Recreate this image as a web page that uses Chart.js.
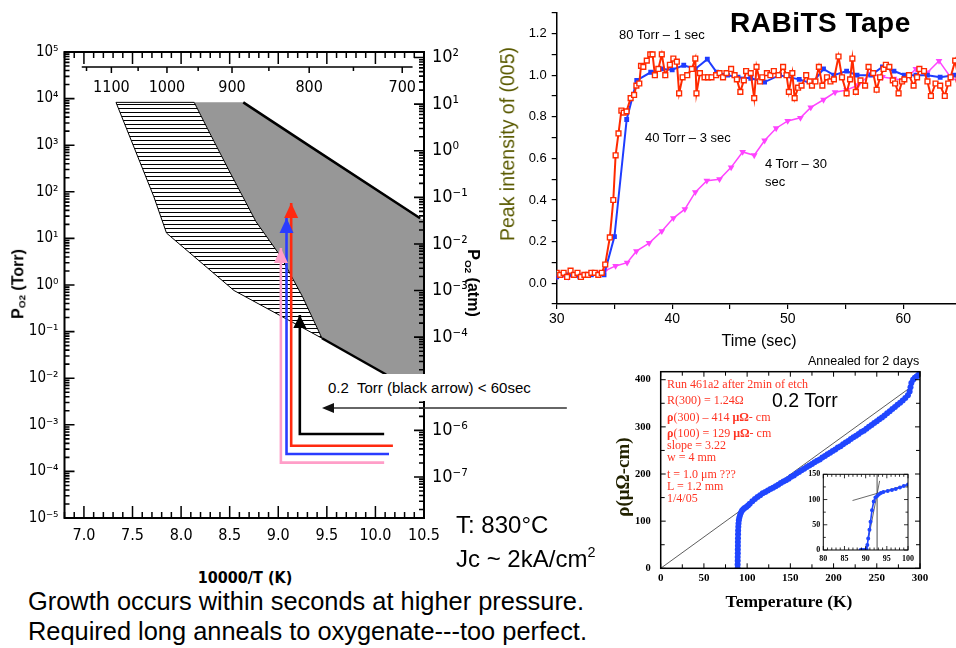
<!DOCTYPE html>
<html>
<head>
<meta charset="utf-8">
<title>Phase diagram, growth and resistivity</title>
<script src="https://cdn.jsdelivr.net/npm/chart.js@4.4.1/dist/chart.umd.min.js"></script>
<style>
  html, body { margin: 0; padding: 0; background: #fff; overflow: hidden; }
  body { position: relative; width: 956px; height: 648px; font-family: 'Liberation Sans', Arial, sans-serif; color: #000; }
  canvas { position: absolute; }
  .txt { position: absolute; white-space: nowrap; line-height: 1; }
  .rotl { transform: translate(-50%, -50%) rotate(-90deg); }
  .rotr { transform: translate(-50%, -50%) rotate(90deg); }
  .note { position: absolute; white-space: nowrap; line-height: 1; font-family: 'Liberation Serif', 'Times New Roman', serif; font-size: 12px; color: #ff3322; }
  sub { font-size: 0.62em; vertical-align: -0.25em; }
  sup { font-size: 0.6em; vertical-align: 0.7em; }
</style>
</head>
<body>
<canvas id="phase" width="580" height="560" style="left:0;top:0"></canvas>
<canvas id="growth" width="500" height="355" style="left:490px;top:0"></canvas>
<canvas id="rho" width="366" height="270" style="left:590px;top:355px"></canvas>
<canvas id="inset" width="118" height="98" style="left:800px;top:466px"></canvas>

<!-- left panel text -->
<div class="txt rotl" style="left:19px;top:284px;font-size:16px;font-weight:bold">P<sub>O2</sub> (Torr)</div>
<div class="txt rotr" style="left:472px;top:283px;font-size:16px;font-weight:bold">P<sub>O2</sub> (atm)</div>
<div class="txt" style="left:322px;top:374px;width:228px;height:27px;background:#fff;font-size:15px;line-height:27px;padding-left:6px;box-sizing:border-box">0.2&nbsp; Torr (black arrow) &lt; 60sec</div>
<div class="txt" style="left:245px;top:570px;transform:translateX(-50%);font-size:16px;font-weight:bold;font-family:'Liberation Sans Narrow','DejaVu Sans Condensed',sans-serif">10000/T (K)</div>
<div class="txt" style="left:456px;top:513px;font-size:24px">T: 830°C</div>
<div class="txt" style="left:456px;top:545px;font-size:24px">Jc ~ 2kA/cm<sup>2</sup></div>
<div class="txt" style="left:28px;top:589px;font-size:25.4px">Growth occurs within seconds at higher pressure.</div>
<div class="txt" style="left:28px;top:619px;font-size:25.4px">Required long anneals to oxygenate---too perfect.</div>

<!-- top right panel text -->
<div class="txt" style="left:730px;top:9px;font-size:28px;font-weight:bold;letter-spacing:0.5px">RABiTS Tape</div>
<div class="txt" style="left:619px;top:28px;font-size:13px">80 Torr – 1 sec</div>
<div class="txt" style="left:645px;top:131px;font-size:13px">40 Torr – 3 sec</div>
<div class="txt" style="left:765px;top:157px;font-size:13px">4 Torr – 30</div>
<div class="txt" style="left:765px;top:175px;font-size:13px">sec</div>
<div class="txt rotl" style="left:508px;top:144px;font-size:19.5px;color:#5a5a00">Peak intensity of (005)</div>
<div class="txt" style="left:759px;top:333px;transform:translateX(-50%);font-size:16px">Time (sec)</div>

<!-- bottom right panel text -->
<div class="txt" style="left:808px;top:355px;font-size:12.5px">Annealed for 2 days</div>
<div class="txt" style="left:772px;top:391px;font-size:19.5px">0.2 Torr</div>
<div class="note" style="left:667px;top:378px">Run 461a2 after 2min of etch</div>
<div class="note" style="left:667px;top:394px">R(300) = 1.24Ω</div>
<div class="note" style="left:667px;top:411px"><b>ρ</b>(300) – 414 <b>μΩ</b>- cm</div>
<div class="note" style="left:667px;top:427px"><b>ρ</b>(100) = 129 <b>μΩ</b>- cm</div>
<div class="note" style="left:667px;top:439px">slope = 3.22</div>
<div class="note" style="left:667px;top:451px">w = 4 mm</div>
<div class="note" style="left:667px;top:468px">t = 1.0 μm ???</div>
<div class="note" style="left:667px;top:480px">L = 1.2 mm</div>
<div class="note" style="left:667px;top:492px">1/4/05</div>
<div class="txt" style="left:789px;top:593px;transform:translateX(-50%);font-size:17.5px;font-weight:bold;font-family:'Liberation Serif','Times New Roman',serif">Temperature (K)</div>
<div class="txt rotl" style="left:622px;top:477px;font-size:19px;font-weight:bold;font-family:'Liberation Serif','Times New Roman',serif;color:#222200">ρ(μΩ-cm)</div>

<script>
const SANS = "'Liberation Sans', Arial, sans-serif";
const NARROW = "'Liberation Sans Narrow', 'DejaVu Sans Condensed', 'Liberation Sans', sans-serif";
const SERIF = "'Liberation Serif', 'Times New Roman', serif";

// ---- left panel: stability diagram (x = 10000/T, y = P_O2 in Torr) ----
const hatchZone = [[7.33, 8300], [8.135, 8300], [8.27, 2300], [8.49, 295], [8.77, 23], [9.025, 4.1],
  [9.25, 0.56], [9.45, 0.072], [8.545, 0.76], [7.85, 13], [7.72, 78]];
const grayZone = [[8.135, 8300], [8.64, 8300], [9.34, 910], [10.46, 27], [10.5, 25], [10.5, 0.012],
  [10.11, 0.012], [9.45, 0.072], [9.25, 0.56], [9.025, 4.1], [8.77, 23], [8.49, 295], [8.27, 2300]];
const grayUpperEdge = [[8.64, 8300], [9.34, 910], [10.46, 27]];
const grayLowerEdge = [[9.45, 0.072], [10.11, 0.012]];
// anneal paths: pink, blue, red, black
const arrowX = [9.027, 9.085, 9.133, 9.222];
const arrowTip = [6.2, 27.4, 57.5, 0.227];
const arrowBase = [1.54e-4, 2.36e-4, 3.56e-4, 6.35e-4];
const arrowEnd = [10.09, 10.14, 10.18, 10.09];
const arrowColors = ['#ff9ec8', '#2a3cff', '#ff2a10', '#000000'];
const noteArrow = { from: 11.97, to: 9.45, torr: 2.3e-3 };
const invTLabels = [7.0, 7.5, 8.0, 8.5, 9.0, 9.5, 10.0, 10.5];
const torrDecades = [1e-5, 1e-4, 1e-3, 1e-2, 1e-1, 1, 1e1, 1e2, 1e3, 1e4, 1e5];
const atmDecades = [1e-7, 1e-6, 1e-5, 1e-4, 1e-3, 1e-2, 1e-1, 1, 1e1, 1e2];
const celsiusTicks = [1150, 1100, 1050, 1000, 950, 900, 850, 800, 750, 700];
const celsiusLabels = [1100, 1000, 900, 800, 700];
const celsiusSpan = [1160, 690];
const TORR_PER_ATM = 760;

// ---- top right: (005) peak intensity vs time ----
const run80 = [[30.0,0.05],[30.3,0.04],[30.6,0.05],[30.9,0.03],[31.2,0.06],[31.5,0.04],[31.8,0.05],[32.1,0.03],
  [32.4,0.04],[32.7,0.04],[33.0,0.05],[33.3,0.05],[33.6,0.04],[33.9,0.05],[34.2,0.09],[34.6,0.22],[34.9,0.40],
  [35.1,0.615],[35.35,0.72],[35.6,0.83],[35.8,0.82],[36.05,0.826],[36.4,0.89],[36.7,0.905],[36.9,0.95],[37.15,0.96],
  [37.3,1.045],[37.5,1.04],[37.8,1.07],[38.1,1.10],[38.3,1.10],[38.5,1.0],[38.8,1.03],[39.1,1.10],[39.4,1.0],
  [39.8,1.05],[40.1,1.08],[40.4,1.065],[40.6,0.913],[40.9,0.99],[41.3,1.0],[41.7,1.03],[42.0,1.08],[42.1,0.913],
  [42.4,1.01],[42.8,0.99],[43.1,0.99],[43.4,0.99],[43.8,1.0],[44.1,1.01],[44.4,0.99],[44.7,1.01],[45.1,1.03],
  [45.4,1.0],[45.6,0.98],[45.9,0.92],[46.2,0.975],[46.4,1.02],[46.8,1.01],[47.1,0.89],[47.3,1.04],[47.6,0.97],
  [47.8,0.99],[48.2,1.01],[48.5,1.0],[48.8,1.02],[49.2,1.0],[49.6,1.04],[49.9,1.0],[50.1,0.92],[50.4,1.01],
  [50.6,0.89],[50.9,0.94],[51.2,0.95],[51.6,1.0],[51.9,0.97],[52.1,0.95],[52.4,0.97],[52.7,1.04],[53.0,0.95],
  [53.4,0.99],[53.7,0.97],[54.0,0.98],[54.4,1.09],[54.7,0.99],[55.1,0.913],[55.4,0.98],[55.6,1.08],[55.9,0.92],
  [56.3,0.975],[56.7,0.95],[57.0,1.04],[57.4,1.01],[57.7,0.93],[58.0,0.99],[58.3,1.03],[58.5,1.05],[58.8,1.04],
  [59.1,0.975],[59.3,0.96],[59.6,0.913],[59.9,0.97],[60.1,0.98],[60.5,1.0],[60.9,0.95],[61.2,0.99],[61.4,1.03],
  [61.8,1.02],[62.1,0.97],[62.4,0.90],[62.8,0.96],[63.2,0.95],[63.6,0.90],[63.9,0.96],[64.1,0.99],[64.5,1.07],
  [64.8,0.98],[65.2,1.02]];
const run40 = [[30,0.03],[31,0.04],[32,0.03],[33,0.04],[34.1,0.04],[35.0,0.224],[36.06,0.787],[36.93,0.975],
  [38.14,1.014],[39.1,1.03],[40.0,1.026],[41.0,1.048],[42.0,1.03],[43.04,1.077],[43.85,1.014],[44.8,1.0],
  [45.7,0.99],[46.8,0.985],[48.0,0.967],[49.3,1.0],[51.0,0.98],[52.1,0.96],[53.1,1.03],[54.0,1.0],[55.1,1.02],
  [56.0,1.0],[57.2,1.0],[58.2,1.04],[59.2,1.02],[60.1,1.0],[61.1,1.0],[62.1,1.0],[63.2,0.99],[64.4,1.0],[65.4,1.0]];
const run4 = [[30,0.03],[31,0.03],[32,0.04],[33.03,0.052],[34.2,0.06],[35.1,0.083],[36.1,0.099],[36.9,0.154],
  [38.0,0.193],[39.1,0.25],[40.1,0.313],[41.1,0.356],[42.0,0.438],[43.0,0.493],[44.1,0.5],[45.1,0.557],
  [46.1,0.631],[47.1,0.615],[48.0,0.686],[49.0,0.745],[50.0,0.78],[51.1,0.795],[52.0,0.845],[53.1,0.882],
  [54.1,0.918],[55.1,0.929],[56.1,0.952],[57.2,1.007],[58.2,0.991],[59.2,0.983],[60.1,0.975],[61.1,1.03],
  [62.1,1.013],[63.1,1.069],[64.1,0.99],[65.1,0.96]];

// ---- bottom right: resistivity vs temperature ----
const rhoCurve = [[89.0,0],[89.0,8],[89.1,16],[89.1,24],[89.2,32],[89.2,40],[89.3,48],[89.3,56],[89.4,64],
  [89.5,72],[89.6,80],[89.8,88],[90.0,95],[90.4,102],[91.0,108],[91.8,113],[92.8,118],[94.0,122],[95.5,125],
  [97.2,128],[99,130],[101,133],[103,137],[106,142],[109,147],[112,151],[115,155],[118,159],[121,162],[124,165],
  [127,168],[130,171],[133,174],[136,177],[139,181],[142,184],[145,187],[148,190],[151,194],[154,197],[157,201],
  [160,204],[163,208],[166,211],[169,215],[172,218],[175,221],[178,225],[181,228],[184,231],[187,235],[190,238],
  [193,242],[196,245],[199,249],[202,252],[205,256],[208,259],[211,263],[214,267],[217,270],[220,274],[223,278],
  [226,281],[229,285],[232,289],[235,292],[238,296],[241,300],[244,304],[247,308],[250,312],[253,316],[256,320],
  [259,324],[262,329],[265,333],[268,338],[271,342],[274,347],[277,351],[280,356],[283,361],[286,367],[288,375],
  [289,384],[290,393],[292,400],[294,404],[296,407],[298,410],[300,414]];
const rhoGuide = [[0, 0], [290, 385]];
const rhoLabels = [0, 100, 200, 300, 400];
const insetCurve = [[88.8,0],[89.2,0],[89.6,0],[90.0,0.5],[90.2,2],[90.4,10],[90.6,23],[90.9,40],[91.15,56],
  [91.5,79],[91.9,96],[92.3,104],[92.7,107],[93.1,110],[93.6,113],[94.2,115],[95.2,117],[96.2,119],[97.1,121],
  [98.1,124],[99.0,127],[100,130]];
const insetNormal = [[86.9, 98], [100, 130]];
const insetSteep = [[90.6, 20], [93.3, 137]];
const insetTc = [[92.7, 0], [92.7, 150]];

const pts = arr => arr.map(([x, y]) => ({ x, y }));
const sup = n => String(n).split('').map(c => c === '-' ? '⁻' : '⁰¹²³⁴⁵⁶⁷⁸⁹'['0123456789'.indexOf(c)]).join('');
const decadeLabel = v => '10' + sup(Math.round(Math.log10(v)));
const invT = c => 10000 / (c + 273.15);
const base = { responsive: false, animation: false, events: [], plugins: { legend: { display: false }, tooltip: { enabled: false } } };
const noGrid = { display: false, drawTicks: false };

// every 1..9 x 10^n value inside a log axis, flagged major on the decades
function logMarks(min, max) {
  const out = [];
  for (let e = Math.floor(Math.log10(min)); e <= Math.ceil(Math.log10(max)); e++) {
    for (let m = 1; m <= 9; m++) {
      const v = m * Math.pow(10, e);
      if (v >= min * 0.999 && v <= max * 1.001) out.push({ v, major: m === 1 });
    }
  }
  return out;
}

// inside tick marks on a full frame
function frameTicks(chart, o) {
  const { ctx, chartArea: a, scales: { x, y } } = chart;
  ctx.save();
  ctx.strokeStyle = '#000';
  ctx.lineWidth = o.tickWidth;
  ctx.beginPath();
  for (let i = Math.ceil(x.min / o.xStep - 1e-6); i * o.xStep <= x.max + 1e-6; i++) {
    const v = i * o.xStep, px = x.getPixelForValue(v);
    const len = Math.abs(v / o.xMajor - Math.round(v / o.xMajor)) < 1e-6 ? o.major : o.minor;
    ctx.moveTo(px, a.bottom); ctx.lineTo(px, a.bottom - len);
    ctx.moveTo(px, a.top); ctx.lineTo(px, a.top + len);
  }
  if (o.yStep) {
    for (let i = Math.ceil(y.min / o.yStep - 1e-6); i * o.yStep <= y.max + 1e-6; i++) {
      const v = i * o.yStep, py = y.getPixelForValue(v);
      const len = Math.abs(v / o.yMajor - Math.round(v / o.yMajor)) < 1e-6 ? o.major : o.minor;
      ctx.moveTo(a.left, py); ctx.lineTo(a.left + len, py);
      ctx.moveTo(a.right, py); ctx.lineTo(a.right - len, py);
    }
  }
  ctx.stroke();
  ctx.lineWidth = o.frame;
  ctx.strokeRect(a.left, a.top, a.right - a.left, a.bottom - a.top);
  ctx.restore();
}

const phasePlugin = {
  id: 'phase',
  beforeDatasetsDraw(chart) {
    const { ctx, scales: { x, y } } = chart;
    const P = ([a, b]) => [x.getPixelForValue(a), y.getPixelForValue(b)];
    const trace = (list, close) => {
      ctx.beginPath();
      list.forEach((p, i) => { const [px, py] = P(p); i ? ctx.lineTo(px, py) : ctx.moveTo(px, py); });
      if (close) ctx.closePath();
    };
    const pc = document.createElement('canvas');
    pc.width = 4; pc.height = 4;
    const pctx = pc.getContext('2d');
    pctx.fillStyle = '#fff'; pctx.fillRect(0, 0, 4, 4);
    pctx.fillStyle = '#000'; pctx.fillRect(0, 0, 4, 1);
    ctx.save();
    trace(grayZone, true); ctx.fillStyle = '#979797'; ctx.fill();
    trace(hatchZone, true); ctx.fillStyle = ctx.createPattern(pc, 'repeat'); ctx.fill();
    ctx.strokeStyle = '#000'; ctx.lineWidth = 1; ctx.stroke();
    ctx.lineWidth = 2.5;
    trace(grayUpperEdge, false); ctx.stroke();
    trace(grayLowerEdge, false); ctx.stroke();
    ctx.restore();
  },
  afterDatasetsDraw(chart) {
    const { ctx, scales: { x, y } } = chart;
    ctx.save();
    arrowX.forEach((ax, i) => {
      const px = x.getPixelForValue(ax), py = y.getPixelForValue(arrowTip[i]);
      const len = i === 3 ? 13 : 15, half = i === 3 ? 6.5 : 7;
      ctx.fillStyle = arrowColors[i];
      ctx.beginPath();
      ctx.moveTo(px, py); ctx.lineTo(px - half, py + len); ctx.lineTo(px + half, py + len);
      ctx.closePath(); ctx.fill();
    });
    ctx.restore();
  },
  afterDraw(chart) {
    const { ctx, chartArea: a, scales: { x, y, y2 } } = chart;
    frameTicks(chart, { xStep: 0.1, xMajor: 0.5, major: 12, minor: 6, tickWidth: 1.5, frame: 2 });
    ctx.save();
    ctx.strokeStyle = '#000'; ctx.lineWidth = 1.6;
    ctx.beginPath();
    logMarks(y.min, y.max).forEach(t => {
      const py = y.getPixelForValue(t.v);
      ctx.moveTo(a.left, py); ctx.lineTo(a.left + (t.major ? 10 : 5), py);
    });
    logMarks(y2.min, y2.max).forEach(t => {
      const py = y2.getPixelForValue(t.v);
      ctx.moveTo(a.right, py); ctx.lineTo(a.right - (t.major ? 10 : 5), py);
    });
    ctx.stroke();
    // temperature (C) axis inside the top of the frame
    const cy = a.top + 15;
    ctx.lineWidth = 1.5;
    ctx.beginPath();
    ctx.moveTo(x.getPixelForValue(invT(celsiusSpan[0])), cy);
    ctx.lineTo(x.getPixelForValue(invT(celsiusSpan[1])), cy);
    celsiusTicks.forEach(c => {
      const px = x.getPixelForValue(invT(c));
      ctx.moveTo(px, cy); ctx.lineTo(px, cy + (c % 100 === 0 ? 6 : 4));
    });
    ctx.stroke();
    ctx.fillStyle = '#000';
    ctx.font = '16px ' + NARROW;
    ctx.textAlign = 'center'; ctx.textBaseline = 'middle';
    celsiusLabels.forEach(c => ctx.fillText(String(c), x.getPixelForValue(invT(c)), cy + 21));
    // pointer to the black arrow
    const ny = y.getPixelForValue(noteArrow.torr);
    const x0 = x.getPixelForValue(noteArrow.from), x1 = x.getPixelForValue(noteArrow.to);
    ctx.strokeStyle = '#333'; ctx.fillStyle = '#111'; ctx.lineWidth = 1.5;
    ctx.beginPath(); ctx.moveTo(x0, ny); ctx.lineTo(x1 + 8, ny); ctx.stroke();
    ctx.beginPath(); ctx.moveTo(x1, ny); ctx.lineTo(x1 + 12, ny - 5); ctx.lineTo(x1 + 12, ny + 5); ctx.closePath(); ctx.fill();
    ctx.restore();
  }
};

new Chart(document.getElementById('phase'), {
  type: 'scatter',
  data: {
    datasets: arrowX.map((ax, i) => ({
      data: [{ x: arrowEnd[i], y: arrowBase[i] }, { x: ax, y: arrowBase[i] }, { x: ax, y: arrowTip[i] }],
      showLine: true, borderColor: arrowColors[i], borderWidth: 2.6, pointRadius: 0,
      borderJoinStyle: 'miter', order: 4 - i
    }))
  },
  options: {
    ...base,
    layout: { padding: { top: 52 } },
    scales: {
      x: {
        type: 'linear', min: 6.8, max: 10.5,
        afterBuildTicks: s => { s.ticks = invTLabels.map(value => ({ value })); },
        ticks: { autoSkip: false, maxRotation: 0, padding: 8, color: '#000', font: { family: NARROW, size: 16 },
          callback: v => v.toFixed(1) },
        grid: noGrid, border: { display: false },
        afterFit: s => { s.height = 42; }
      },
      y: {
        type: 'logarithmic', min: 1e-5, max: 1e5,
        afterBuildTicks: s => { s.ticks = torrDecades.map(value => ({ value })); },
        ticks: { autoSkip: false, padding: 6, color: '#000', font: { family: NARROW, size: 15 }, callback: decadeLabel },
        grid: noGrid, border: { display: false },
        afterFit: s => { s.width = 64.5; }
      },
      y2: {
        type: 'logarithmic', position: 'right', min: 1e-5 / TORR_PER_ATM, max: 1e5 / TORR_PER_ATM,
        afterBuildTicks: s => { s.ticks = atmDecades.map(value => ({ value })); },
        ticks: { autoSkip: false, padding: 8, color: '#000', font: { family: NARROW, size: 18 }, callback: decadeLabel },
        grid: noGrid, border: { display: false },
        afterFit: s => { s.width = 156; }
      }
    }
  },
  plugins: [phasePlugin]
});

new Chart(document.getElementById('growth'), {
  type: 'scatter',
  data: {
    datasets: [
      { data: pts(run80), showLine: true, borderColor: '#ff2a00', borderWidth: 2, pointStyle: 'rect', pointRadius: 3.4,
        pointBackgroundColor: '#fff', pointBorderColor: '#ff2a00', pointBorderWidth: 1.4 },
      { data: pts(run40), showLine: true, borderColor: '#1f3cff', borderWidth: 2, pointStyle: 'rect', pointRadius: 2,
        pointBackgroundColor: '#1f3cff', pointBorderColor: '#1f3cff' },
      { data: pts(run4), showLine: true, borderColor: '#ff44ff', borderWidth: 1.5, pointStyle: 'triangle', pointRadius: 2.4,
        rotation: 180, pointBackgroundColor: '#ff44ff', pointBorderColor: '#ff44ff' }
    ]
  },
  options: {
    ...base,
    layout: { padding: { top: 6, right: 17.5 } },
    scales: {
      x: {
        type: 'linear', min: 30, max: 66,
        ticks: { stepSize: 5, autoSkip: false, maxRotation: 0, padding: 2, color: '#000', font: { family: SANS, size: 14 },
          callback: v => v % 10 === 0 ? String(v) : '' },
        grid: { drawOnChartArea: false, tickLength: 5, color: '#000', lineWidth: 1.2 },
        border: { color: '#000', width: 1.5 },
        afterFit: s => { s.height = 51; }
      },
      y: {
        min: -0.1, max: 1.3,
        ticks: { stepSize: 0.1, autoSkip: false, padding: 5, color: '#000', font: { family: SANS, size: 13 },
          callback: v => { const r = Math.round(v * 10); return r >= 0 && r <= 12 && r % 2 === 0 ? (r / 10).toFixed(1) : ''; } },
        grid: { drawOnChartArea: false, tickLength: 5, color: '#000', lineWidth: 1.2 },
        border: { color: '#000', width: 1.5 },
        afterFit: s => { s.width = 66.7; }
      }
    }
  }
});

new Chart(document.getElementById('rho'), {
  type: 'scatter',
  data: {
    datasets: [
      { data: pts(rhoCurve), pointRadius: 3, pointBackgroundColor: '#2046ff', pointBorderColor: '#2046ff', borderWidth: 0 },
      { data: pts(rhoGuide), showLine: true, borderColor: '#333', borderWidth: 0.8, pointRadius: 0 }
    ]
  },
  options: {
    ...base,
    layout: { padding: { top: 16.7, right: 36 } },
    scales: {
      x: {
        type: 'linear', min: 0, max: 300,
        ticks: { stepSize: 50, autoSkip: false, maxRotation: 0, padding: 3, color: '#000', font: { family: SERIF, size: 11, weight: 'bold' } },
        grid: noGrid, border: { display: false },
        afterFit: s => { s.height = 56.7; }
      },
      y: {
        min: 0, max: 417,
        afterBuildTicks: s => { s.ticks = rhoLabels.map(value => ({ value })); },
        ticks: { autoSkip: false, padding: 10, color: '#000', font: { family: SERIF, size: 10.5, weight: 'bold' } },
        grid: noGrid, border: { display: false },
        afterFit: s => { s.width = 70.7; }
      }
    }
  },
  plugins: [{ id: 'rhoFrame', afterDraw: c => frameTicks(c, { xStep: 25, xMajor: 50, yStep: 50, yMajor: 100, major: 5, minor: 4, tickWidth: 1, frame: 1.5 }) }]
});

new Chart(document.getElementById('inset'), {
  type: 'scatter',
  data: {
    datasets: [
      { data: pts(insetCurve), showLine: true, borderColor: '#2046ff', borderWidth: 1.6, pointRadius: 1.2,
        pointBackgroundColor: '#2046ff', pointBorderColor: '#2046ff' },
      { data: pts(insetNormal), showLine: true, borderColor: '#444', borderWidth: 0.8, pointRadius: 0 },
      { data: pts(insetSteep), showLine: true, borderColor: '#444', borderWidth: 0.8, pointRadius: 0 },
      { data: pts(insetTc), showLine: true, borderColor: '#222', borderWidth: 0.8, pointRadius: 0 }
    ]
  },
  options: {
    ...base,
    layout: { padding: { top: 8.3, right: 8 } },
    scales: {
      x: {
        type: 'linear', min: 80, max: 100,
        ticks: { stepSize: 5, autoSkip: false, maxRotation: 0, padding: 4, color: '#000', font: { family: SERIF, size: 8, weight: 'bold' } },
        grid: noGrid, border: { display: false },
        afterFit: s => { s.height = 14; }
      },
      y: {
        min: 0, max: 150,
        ticks: { stepSize: 50, autoSkip: false, padding: 3, color: '#000', font: { family: SERIF, size: 8, weight: 'bold' } },
        grid: noGrid, border: { display: false },
        afterFit: s => { s.width = 23.3; }
      }
    }
  },
  plugins: [{ id: 'insetFrame', afterDraw: c => frameTicks(c, { xStep: 1, xMajor: 5, yStep: 25, yMajor: 50, major: 4, minor: 2.5, tickWidth: 0.8, frame: 1 }) }]
});
</script>
</body>
</html>
